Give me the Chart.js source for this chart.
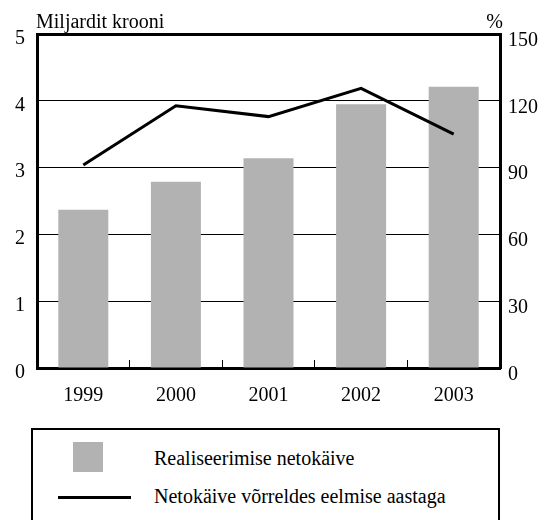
<!DOCTYPE html>
<html><head><meta charset="utf-8">
<script src="https://cdn.jsdelivr.net/npm/chart.js@4/dist/chart.umd.min.js"></script>
<style>
html,body{margin:0;padding:0;background:#fff;overflow:hidden;}
#wrap{position:relative;width:547px;height:520px;overflow:hidden;font-family:"Liberation Serif","Times New Roman",serif;color:#000;}
#c{position:absolute;left:0;top:0;}
.t{position:absolute;font-size:20px;line-height:20px;white-space:nowrap;}
#lbox{position:absolute;left:31px;top:428px;width:465px;height:130px;border:2px solid #000;}
.sw{position:absolute;}
</style>
</head><body>
<div id="wrap">
<canvas id="c" width="547" height="420"></canvas>
<div class="t" id="lt" style="left:36px;top:11px;">Miljardit krooni</div>
<div class="t" id="rt" style="right:44px;top:11px;">%</div>
<div id="lbox"></div>
<div id="legend"></div>
</div>
<script>
const years = ['1999', '2000', '2001', '2002', '2003'];
const netSales = [2.37, 2.79, 3.14, 3.95, 4.21];
const netSalesChange = [91.2, 117.8, 112.9, 125.6, 105.0];
const leftTicks = [0, 1, 2, 3, 4, 5];
const rightTicks = [0, 30, 60, 90, 120, 150];
const seriesLabels = ['Realiseerimise netokäive', 'Netokäive võrreldes eelmise aastaga'];

const FONT = {family: '"Liberation Serif", "Times New Roman", serif', size: 20};
const BAR_COLOR = '#b2b2b2';

const chart = new Chart(document.getElementById('c'), {
  type: 'bar',
  data: {
    labels: years,
    datasets: [
      {type: 'line', label: seriesLabels[1], data: netSalesChange, yAxisID: 'y1',
       borderColor: '#000', borderWidth: 3, pointRadius: 0, tension: 0, fill: false, order: 0},
      {type: 'bar', label: seriesLabels[0], data: netSales, yAxisID: 'y',
       backgroundColor: BAR_COLOR, borderWidth: 0, categoryPercentage: 1, barPercentage: 0.54, order: 1}
    ]
  },
  options: {
    responsive: false, animation: false, devicePixelRatio: 1,
    layout: {padding: {top: 34, left: 0, right: 0, bottom: 0}},
    plugins: {legend: {display: false}, tooltip: {enabled: false}, title: {display: false}},
    scales: {
      x: {
        offset: true,
        grid: {display: true, offset: true, drawOnChartArea: false, drawTicks: true, tickLength: -8, color: '#000', lineWidth: 1},
        border: {display: true, color: '#000', width: 3},
        ticks: {font: FONT, color: '#000', padding: 24, maxRotation: 0},
        afterFit: s => { s.height = 420 - 368; }
      },
      y: {
        position: 'left', min: 0, max: 5,
        afterBuildTicks: s => { s.ticks = leftTicks.map(v => ({value: v})); },
        grid: {display: true, drawTicks: false, color: '#000', lineWidth: c => (c.tick && c.tick.value === 5) ? 3 : 1},
        border: {display: true, color: '#000', width: 3},
        ticks: {font: FONT, color: '#000', padding: 12, labelOffset: 4.5},
        afterFit: s => { s.width = 37; }
      },
      y1: {
        position: 'right', min: 0, max: 150,
        afterBuildTicks: s => { s.ticks = rightTicks.map(v => ({value: v})); },
        grid: {display: true, drawOnChartArea: false, drawTicks: false},
        border: {display: true, color: '#000', width: 3},
        ticks: {font: FONT, color: '#000', padding: 8, labelOffset: 6.5},
        afterFit: s => { s.width = 47; }
      }
    }
  }
});

// legend built from the datasets
const leg = document.getElementById('legend');
const items = [
  {ds: chart.data.datasets[1], swatch: 'box', swTop: 442, txtTop: 448},
  {ds: chart.data.datasets[0], swatch: 'line', swTop: 495.5, txtTop: 486}
];
items.forEach(it => {
  const sw = document.createElement('div');
  sw.className = 'sw';
  if (it.swatch === 'box') {
    sw.style.cssText = `left:73px;top:${it.swTop}px;width:30px;height:30px;background:${it.ds.backgroundColor};`;
  } else {
    sw.style.cssText = `left:58px;top:${it.swTop}px;width:73px;height:3px;background:${it.ds.borderColor};`;
  }
  leg.appendChild(sw);
  const tx = document.createElement('div');
  tx.className = 't';
  tx.style.left = '154px';
  tx.style.top = it.txtTop + 'px';
  tx.textContent = it.ds.label;
  leg.appendChild(tx);
});
</script>
</body></html>
